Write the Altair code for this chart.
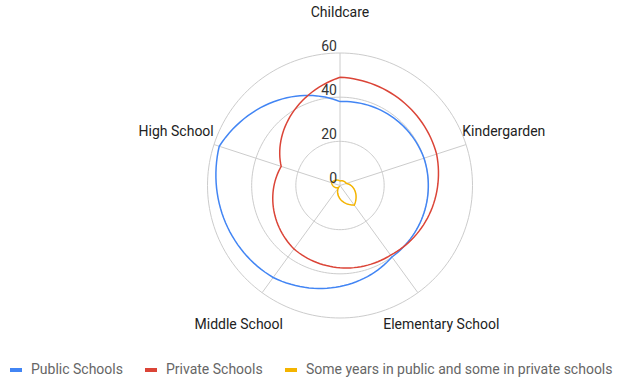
import altair as alt
import pandas as pd

categories = ["Childcare", "Kindergarden", "Elementary School", "Middle School", "High School"]
series_names = ["Public Schools", "Private Schools", "Some years in public and some in private schools"]
public_vals = [38, 40, 40, 51.5, 57.5]
private_vals = [49, 46, 39, 35.5, 28]
mixed_vals = [2, 3, 11, 1, 4]
grid_levels = [20, 40, 60]
tick_labels = [0, 20, 40, 60]
colors = ["#4285F4", "#DB4437", "#F4B400"]

rows = []
for name, vals in zip(series_names, [public_vals, private_vals, mixed_vals]):
    for i, (c, v) in enumerate(zip(categories, vals)):
        rows.append({"series": name, "category": c, "idx": i, "value": v})
df = pd.DataFrame(rows)
cat_df = pd.DataFrame({"category": categories, "idx": list(range(len(categories)))})
grid_df = pd.DataFrame({"level": grid_levels})
tick_df = pd.DataFrame({"v": tick_labels, "label": [str(t) for t in tick_labels]})

# pixel geometry: center at (340, 185.5), 60 units = 132.5 px
u = 60 / 132.5
xdom = [-340 * u, (617 - 340) * u]
ydom = [-(381 - 185.5) * u, 185.5 * u]
X = lambda f: alt.X(f, type="quantitative", scale=alt.Scale(domain=xdom, nice=False, zero=False), axis=None)
Y = lambda f: alt.Y(f, type="quantitative", scale=alt.Scale(domain=ydom, nice=False, zero=False), axis=None)
N = len(categories)

grid = alt.Chart(grid_df).transform_calculate(
    steps="sequence(0, 181)"
).transform_flatten(["steps"]).transform_calculate(
    ang="datum.steps / 180 * 2 * PI",
    gx="datum.level * sin(datum.ang)",
    gy="datum.level * cos(datum.ang)",
).mark_line(stroke="#cccccc", strokeWidth=1).encode(
    x=X("gx"), y=Y("gy"), detail="level:N", order="steps:Q"
)

spokes = alt.Chart(cat_df).transform_calculate(
    ang=f"datum.idx * 2 * PI / {N}",
    x0="0", y0="0",
    x1="60 * sin(datum.ang)", y1="60 * cos(datum.ang)",
).mark_rule(stroke="#cccccc", strokeWidth=1).encode(
    x=X("x0"), y=Y("y0"), x2="x1:Q", y2="y1:Q"
)

cat_labels = alt.Chart(cat_df).transform_calculate(
    ang=f"datum.idx * 2 * PI / {N}",
    lx="78 * sin(datum.ang)", ly="78 * cos(datum.ang)",
).mark_text(font="Roboto", fontSize=14, color="#222222", align="center", baseline="middle").encode(
    x=X("lx"), y=Y("ly"), text="category:N"
)

ticks = alt.Chart(tick_df).transform_calculate(
    tx="0", ty="datum.v"
).mark_text(font="Roboto", fontSize=14, color="#333333", align="right", baseline="alphabetic", dx=-3, dy=-2.5).encode(
    x=X("tx"), y=Y("ty"), text="label:N"
)

lines = alt.Chart(df).transform_window(
    nxt="lead(value)", first="first_value(value)",
    groupby=["series"], sort=[alt.SortField("idx")], frame=[None, None]
).transform_calculate(
    nv="isValid(datum.nxt) ? datum.nxt : datum.first",
    steps="sequence(0, 31)",
).transform_flatten(["steps"]).transform_calculate(
    t="datum.steps / 30",
    ang=f"(datum.idx + datum.t) * 2 * PI / {N}",
    r="datum.value + (datum.nv - datum.value) * datum.t",
    px="datum.r * sin(datum.ang)",
    py="datum.r * cos(datum.ang)",
    ord="datum.idx * 100 + datum.steps",
).mark_line(strokeWidth=1.5).encode(
    x=X("px"), y=Y("py"),
    color=alt.Color("series:N", scale=alt.Scale(domain=series_names, range=colors),
                    sort=series_names,
                    legend=alt.Legend(title=None, orient="none", legendX=8, legendY=362,
                                      direction="horizontal", symbolType="stroke",
                                      symbolStrokeWidth=4, symbolSize=144,
                                      labelFont="Roboto", labelFontSize=14, labelColor="#666666",
                                      labelOffset=7, columnPadding=14, labelLimit=400, padding=0)),
    order="ord:Q",
)

chart = alt.layer(grid, spokes, lines, ticks, cat_labels).properties(
    width=617, height=381, padding=0, autosize=alt.AutoSizeParams(type="none")
).configure_view(stroke=None)

chart.save("out.html", embed_options={"renderer": "svg", "actions": False})
